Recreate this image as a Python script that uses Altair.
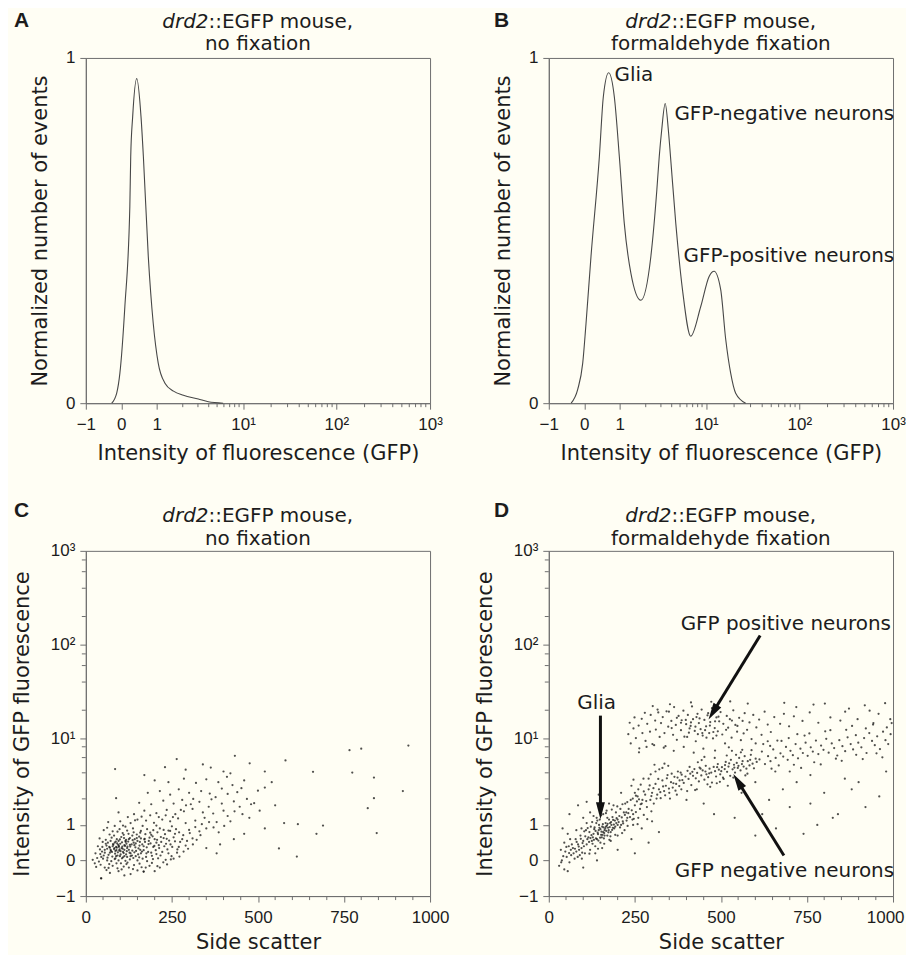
import math
import altair as alt
import pandas as pd

BG = "#FFFEF4"
INK = "#1c1c1c"
AXIS = "#6e6e6e"
W, H = 345, 346

# Biexponential display axis: axis-unit positions of the labelled values -1, 0, 1, 10, 100, 1000
TICK_POS = [-1, 0, 1, 3.43, 6.06, 8.7]
TICK_LAB = ["−1", "0", "1", "10¹", "10²", "10³"]
DECADES = [(1, 3.43), (3.43, 6.06), (6.06, 8.7)]
HIST_MINOR_MULT = [2, 3, 4, 5, 6, 7, 8, 9]
SCAT_MINOR_MULT = [2, 4, 6, 8]
SSC_TICKS = [0, 250, 500, 750, 1000]
SSC_MINOR = [50, 100, 150, 200, 300, 350, 400, 450, 550, 600, 650, 700, 800, 850, 900, 950]

# Panel A histogram (x in display-axis units, y normalized)
A_X = [-0.27, -0.13, -0.04, 0.1, 0.24, 0.265, 0.32, 0.434, 0.555, 0.622, 0.76, 0.9, 1.04,
       1.23, 1.47, 1.75, 2.17, 2.45, 2.87]
A_Y = [0, 0.029, 0.087, 0.28, 0.57, 0.714, 0.83, 0.94, 0.83, 0.714, 0.425, 0.231, 0.116,
       0.058, 0.035, 0.023, 0.012, 0.004, 0]

# Panel B histogram
B_X = [-0.37, -0.185, -0.044, 0.049, 0.189, 0.425, 0.536, 0.687, 0.847, 0.988, 1.128, 1.314,
       1.595, 1.876, 2.045, 2.112, 2.18, 2.28, 2.37, 2.43, 2.579, 2.767, 3.0, 3.282, 3.518,
       3.658, 3.844, 3.985, 4.125, 4.266, 4.547]
B_Y = [0, 0.04, 0.116, 0.231, 0.425, 0.714, 0.887, 0.957, 0.887, 0.714, 0.52, 0.376,
       0.298, 0.425, 0.618, 0.714, 0.79, 0.868, 0.79, 0.714, 0.52, 0.329, 0.194, 0.28, 0.367,
       0.382, 0.329, 0.185, 0.087, 0.029, 0]
B_NOTES = [("Glia", 0.85, 0.934, "left"), ("GFP-negative neurons", 2.54, 0.82, "left"),
           ("GFP-positive neurons", 2.795, 0.41, "left")]

# Panel C scatter (side scatter, display-axis units)
C_CORE = [
    (45, -0.5), (70, -0.35), (95, -0.3), (130, -0.38), (168, -0.31), (112, -0.42), (150, -0.28), (60, -0.27), (200, -0.3),
    (30, -0.18), (55, -0.2), (78, -0.15), (92, -0.22), (110, -0.17), (125, -0.2), (140, -0.13), (162, -0.19), (185, -0.15),
    (215, -0.2), (68, -0.1), (102, -0.08), (118, -0.1),
    (20, 0.02), (38, -0.03), (50, 0.05), (62, 0.0), (74, -0.02), (84, 0.04), (95, 0.0), (105, 0.06), (115, -0.01),
    (128, 0.03), (138, 0.07), (150, 0.0), (165, 0.05), (178, -0.02), (195, 0.04), (210, 0.06), (232, 0.02), (255, 0.05),
    (45, 0.1), (88, 0.12), (120, 0.1), (145, 0.12), (175, 0.1), (225, -0.05),
    (28, 0.2), (42, 0.18), (55, 0.22), (66, 0.16), (76, 0.24), (85, 0.19), (93, 0.23), (101, 0.17), (110, 0.21),
    (119, 0.26), (130, 0.2), (141, 0.23), (152, 0.17), (163, 0.25), (176, 0.2), (190, 0.22), (205, 0.18), (222, 0.24),
    (240, 0.2), (265, 0.22), (72, 0.3), (97, 0.28), (125, 0.3), (158, 0.3),
    (35, 0.4), (48, 0.38), (60, 0.42), (70, 0.36), (80, 0.44), (88, 0.38), (96, 0.41), (104, 0.35), (112, 0.43),
    (121, 0.39), (133, 0.45), (144, 0.37), (156, 0.42), (168, 0.4), (182, 0.46), (196, 0.38), (212, 0.43), (228, 0.4),
    (246, 0.45), (270, 0.38), (290, 0.42), (64, 0.5), (91, 0.48), (116, 0.52), (139, 0.5), (172, 0.52), (205, 0.5),
    (40, 0.62), (58, 0.58), (75, 0.64), (90, 0.6), (103, 0.66), (117, 0.58), (128, 0.63), (142, 0.6), (155, 0.67),
    (170, 0.59), (185, 0.64), (200, 0.6), (218, 0.66), (235, 0.61), (255, 0.65), (280, 0.6), (310, 0.62), (82, 0.7),
    (110, 0.72), (148, 0.73), (190, 0.72), (230, 0.74),
    (82, 0.32), (90, 0.36), (98, 0.31), (106, 0.39), (94, 0.44), (86, 0.27), (112, 0.3), (100, 0.47), (78, 0.4),
    (120, 0.35), (108, 0.24), (92, 0.14), (84, 0.5), (128, 0.44), (70, 0.22), (62, 0.33), (135, 0.28), (145, 0.48),
    (115, 0.55), (125, 0.6), (135, 0.7), (150, 0.55), (160, 0.62), (95, 0.55), (72, 0.55), (55, 0.3), (47, 0.25),
    (130, 0.12), (112, 0.12), (160, 0.2),
]
C_CORE2 = [
    (83, 0.35), (89, 0.29), (96, 0.38), (101, 0.26), (107, 0.33), (114, 0.41), (79, 0.46), (87, 0.53), (99, 0.59),
    (105, 0.51), (111, 0.63), (118, 0.47), (123, 0.53), (129, 0.39), (136, 0.57), (141, 0.43), (148, 0.63), (153, 0.34),
    (157, 0.52), (164, 0.45), (171, 0.61), (177, 0.37), (183, 0.55), (188, 0.48), (194, 0.68), (199, 0.41), (207, 0.58),
    (213, 0.35), (219, 0.52), (226, 0.63), (233, 0.47), (242, 0.56), (251, 0.38), (259, 0.54), (68, 0.38), (73, 0.27),
    (58, 0.47), (52, 0.14), (63, 0.08), (77, 0.11), (86, 0.06), (99, 0.12), (108, 0.09), (117, 0.17), (127, 0.22),
    (134, 0.14), (146, 0.27), (155, 0.09), (168, 0.29), (181, 0.24), (192, 0.13), (203, 0.29), (217, 0.14), (237, 0.31),
    (249, 0.12), (266, 0.31), (274, 0.52), (283, 0.71), (294, 0.55), (302, 0.77), (271, 0.79), (259, 0.75), (245, 0.83),
    (226, 0.86), (208, 0.79), (187, 0.78), (173, 0.74), (158, 0.78), (139, 0.79), (124, 0.75), (107, 0.77), (92, 0.81),
    (69, 0.73), (49, 0.52), (41, 0.31), (33, 0.07), (26, -0.08), (43, -0.12), (66, -0.21), (89, -0.08), (104, -0.25),
    (121, -0.06), (137, -0.24), (156, -0.09), (174, -0.2), (192, -0.07), (208, -0.16), (236, -0.11), (247, 0.03),
    (272, 0.11), (284, 0.25), (297, 0.33), (311, 0.45), (322, 0.58), (333, 0.71), (318, 0.94), (337, 1.02), (358, 1.08),
    (371, 0.93), (386, 0.79), (402, 0.97), (412, 1.25), (432, 1.38), (447, 1.51), (468, 1.73), (489, 1.61), (357, 1.51),
    (377, 1.78), (412, 1.87), (426, 2.12), (452, 2.03), (312, 1.73), (291, 1.55), (276, 1.42), (253, 1.22), (232, 1.27),
    (212, 1.22), (187, 1.27), (162, 1.23), (143, 1.13), (122, 1.22), (108, 0.98), (84, 0.97), (62, 0.92),
]
C_MID = [
    (52, 0.85), (78, 0.82), (98, 0.88), (120, 0.84), (137, 0.9), (160, 0.83), (178, 0.88), (196, 0.85), (215, 0.9),
    (240, 0.84), (262, 0.88), (300, 0.86), (330, 0.82), (350, 0.9), (115, 0.95), (165, 0.97), (205, 0.98), (250, 0.96),
    (65, 1.08), (100, 1.1), (130, 1.05), (150, 1.15), (175, 1.12), (198, 1.06), (222, 1.15), (245, 1.1), (268, 1.18),
    (290, 1.05), (318, 1.12), (345, 1.2), (380, 1.08), (420, 1.1),
    (95, 1.35), (140, 1.3), (170, 1.4), (205, 1.33), (235, 1.42), (260, 1.3), (285, 1.38), (310, 1.45), (340, 1.35),
    (370, 1.32), (400, 1.4), (455, 1.3),
    (155, 1.62), (190, 1.58), (225, 1.68), (255, 1.6), (280, 1.7), (305, 1.58), (330, 1.65), (365, 1.72), (395, 1.6),
    (430, 1.66), (480, 1.58),
    (180, 1.9), (215, 1.95), (245, 1.85), (270, 2.0), (300, 1.9), (335, 1.95), (360, 1.88), (395, 2.02), (440, 1.92),
    (500, 1.96), (520, 2.05),
    (200, 2.25), (240, 2.2), (285, 2.3), (320, 2.18), (350, 2.28), (385, 2.2), (410, 2.35), (460, 2.25), (540, 2.2),
]
C_SPARSE = [
    (85, 2.57), (230, 2.62), (290, 2.55), (340, 2.7), (363, 2.61), (400, 2.5), (420, 2.45), (476, 2.73), (264, 2.85),
    (433, 2.94), (580, 2.81), (660, 2.49), (774, 2.47), (837, 2.33), (520, 2.5), (766, 3.1), (800, 3.14), (937, 3.23),
    (170, 2.4), (837, 1.75), (921, 1.95), (819, 1.47), (576, 1.05), (616, 1.02), (689, 0.98), (670, 0.75), (845, 0.77),
    (613, 0.11), (561, 0.34), (88, 1.75), (44, -0.5), (168, -0.31), (520, 0.9), (475, 1.2), (430, 0.6), (390, 0.45),
    (460, 0.75), (505, 1.4), (550, 1.55), (380, 0.2), (350, 0.35),
]

# Panel D scatter
D_GLIA = [
    (30, -0.15), (38, 0.0), (45, -0.25), (52, 0.1), (48, 0.25), (60, -0.05), (65, 0.15), (70, 0.35), (58, 0.4),
    (75, 0.05), (80, 0.25), (85, 0.45), (78, 0.6), (90, 0.15), (95, 0.35), (100, 0.55), (92, 0.7), (105, 0.2),
    (110, 0.45), (115, 0.65), (108, 0.85), (120, 0.3), (125, 0.55), (130, 0.75), (122, 0.95), (135, 0.4), (140, 0.6),
    (145, 0.85), (138, 1.05), (150, 0.5), (152, 0.72), (155, 0.95), (148, 1.15), (160, 0.62), (162, 0.85), (165, 1.05),
    (158, 1.3), (170, 0.7), (172, 0.92), (175, 1.15), (168, 1.4), (180, 0.8), (182, 1.0), (185, 1.22), (190, 0.9),
    (192, 1.12), (195, 1.35), (188, 1.55), (200, 1.0), (205, 1.25), (208, 1.45), (215, 1.1), (218, 1.35), (222, 1.6),
    (228, 1.2), (232, 1.45), (238, 1.7), (245, 1.3), (250, 1.55), (258, 1.8), (265, 1.45), (272, 1.7),
    (142, 0.78), (150, 0.88), (158, 0.8), (166, 0.95), (174, 0.85), (146, 1.0), (162, 0.7), (178, 1.05), (186, 0.92),
    (154, 0.65), (132, 0.88), (170, 1.2), (196, 1.05), (128, 0.65), (118, 0.8), (200, 1.15), (210, 1.0), (225, 1.35),
    (112, 0.6), (102, 0.4), (88, 0.3), (72, 0.2), (64, 0.3), (84, 0.1), (96, 0.05), (135, 0.2), (155, 0.35),
    (180, 0.55), (200, 0.7), (220, 0.85), (245, 1.0), (260, 1.2), (110, 1.05), (95, 0.9), (130, 1.25), (150, 1.45),
    (175, 1.6), (120, 1.35), (100, 1.2), (80, 0.85), (62, 0.6), (55, 0.75), (45, 0.5), (35, 0.3),
    (60, 1.3), (85, 1.55), (110, 1.65), (145, 1.85), (210, 1.9), (40, 0.9), (240, 0.6), (270, 0.9), (300, 1.1),
    (290, 0.5), (320, 0.8), (55, -0.3), (100, -0.2), (140, 0.0), (200, 0.3), (250, 0.2),
]
D_GLIA2 = [
    (124, 0.71), (133, 0.93), (137, 0.62), (143, 0.74), (147, 0.92), (153, 0.81), (157, 1.02), (161, 0.77), (164, 0.9),
    (169, 0.98), (173, 0.79), (177, 0.94), (181, 1.08), (184, 0.86), (189, 1.01), (193, 0.95), (197, 1.19), (203, 1.08),
    (207, 0.93), (212, 1.21), (216, 1.04), (221, 1.28), (226, 1.12), (231, 1.33), (236, 1.22), (241, 1.41), (247, 1.17),
    (253, 1.36), (117, 0.52), (127, 0.47), (136, 0.83), (141, 1.12), (149, 0.64), (156, 0.72), (167, 0.83), (179, 0.68),
    (187, 1.14), (171, 1.03), (159, 0.93), (144, 0.56), (131, 0.58), (121, 0.63), (106, 0.68), (98, 0.49), (93, 0.61),
    (87, 0.39), (81, 0.52), (76, 0.33), (67, 0.45), (59, 0.21), (51, 0.38), (42, 0.12), (36, -0.05), (103, 0.82),
    (113, 0.91), (126, 1.08), (139, 1.2), (152, 1.27), (166, 1.33), (183, 1.43), (199, 1.52), (214, 1.58), (228, 1.64),
    (244, 1.74), (256, 1.66), (267, 1.58), (213, 0.77), (229, 0.97), (243, 1.15), (258, 1.02), (276, 1.28), (286, 1.16),
    (298, 1.38), (193, 0.72), (176, 0.58), (161, 0.47), (143, 0.33), (118, 0.19), (97, 0.22),
]
D_BRIDGE = [
    (270, 1.6), (280, 1.85), (285, 1.5), (290, 2.0), (295, 1.7), (300, 1.9), (305, 1.6), (310, 2.15), (315, 1.85),
    (320, 2.0), (325, 1.75), (330, 2.25), (335, 1.95), (340, 2.1), (345, 2.4), (350, 1.9), (355, 2.2), (360, 2.05),
    (365, 2.35), (370, 2.15), (375, 2.5), (380, 2.25), (385, 2.0), (290, 2.3), (310, 2.5), (330, 2.6), (260, 2.0),
    (275, 2.3), (250, 1.9), (240, 2.1),
    (262, 1.72), (276, 1.94), (283, 1.67), (293, 2.11), (298, 1.81), (304, 2.03), (313, 1.74), (318, 2.29), (324, 1.92),
    (332, 2.08), (338, 1.83), (343, 2.31), (349, 2.02), (357, 2.44), (362, 2.17), (368, 1.96), (374, 2.33), (379, 2.09),
    (383, 2.47), (388, 2.26), (296, 2.42), (321, 2.56), (347, 2.66), (267, 2.13), (253, 1.82), (246, 2.27), (352, 1.74),
    (372, 1.85), (336, 2.72), (307, 2.69),
]
D_NEG = [
    (386, 2.41), (392, 2.18), (397, 2.36), (403, 2.52), (406, 2.29), (411, 2.44), (414, 2.12), (419, 2.38), (423, 2.57),
    (427, 2.31), (431, 2.46), (436, 2.22), (438, 2.61), (443, 2.39), (447, 2.53), (452, 2.27), (456, 2.66), (458, 2.42),
    (463, 2.34), (467, 2.58), (472, 2.47), (474, 2.19), (479, 2.63), (483, 2.51), (486, 2.36), (491, 2.71), (494, 2.55),
    (498, 2.42), (503, 2.62), (506, 2.33), (511, 2.57), (514, 2.77), (518, 2.49), (522, 2.64), (527, 2.38), (529, 2.83),
    (534, 2.56), (538, 2.69), (541, 2.47), (546, 2.74), (549, 2.6), (553, 2.88), (557, 2.53), (561, 2.71), (566, 2.64),
    (569, 2.93), (574, 2.58), (578, 2.79), (583, 2.67), (587, 2.97), (592, 2.72), (596, 2.59), (601, 2.86), (604, 2.77),
    (409, 2.63), (425, 1.98), (444, 2.82), (461, 2.14), (482, 2.88), (497, 2.21), (517, 2.95), (536, 2.33), (558, 3.04),
    (577, 2.44), (402, 1.95), (452, 2.91), (488, 2.17), (532, 3.08), (571, 2.39), (469, 2.07), (508, 2.29), (433, 2.76),
    (544, 2.97), (589, 3.1), (417, 2.49), (441, 2.58), (466, 2.45), (489, 2.62), (512, 2.68), (539, 2.61), (563, 2.79),
    (585, 2.83), (455, 2.5), (501, 2.51), (524, 2.73), (551, 2.66),
]
D_NEG_RIGHT = [
    (612, 2.84), (619, 3.06), (628, 2.71), (637, 2.93), (644, 2.79), (652, 3.12), (659, 2.88), (668, 2.67), (673, 3.01),
    (681, 2.92), (689, 3.19), (694, 2.83), (702, 3.08), (709, 2.96), (717, 3.27), (724, 2.87), (731, 3.14), (738, 3.02),
    (746, 3.31), (752, 2.94), (761, 3.18), (767, 3.06), (776, 3.37), (783, 2.99), (791, 3.23), (798, 3.11), (806, 3.42),
    (813, 3.03), (822, 3.29), (829, 3.16), (838, 2.95), (844, 3.38), (853, 3.21), (861, 3.07), (868, 3.46), (877, 3.27),
    (884, 3.12), (892, 3.52), (899, 3.31), (908, 3.18), (916, 3.44), (923, 3.02), (931, 3.58), (939, 3.36), (947, 3.24),
    (954, 3.49), (962, 3.13), (971, 3.62), (978, 3.38), (986, 3.27), (993, 3.55), (623, 3.27), (647, 2.58), (676, 3.36),
    (712, 2.69), (743, 3.51), (771, 2.76), (803, 3.63), (834, 2.86), (864, 3.67), (893, 2.97), (921, 3.71), (952, 3.01),
    (982, 3.74), (697, 3.44), (757, 3.57), (818, 3.66), (881, 3.78), (942, 3.82), (996, 3.86), (636, 3.35), (722, 3.55),
    (658, 2.5), (733, 2.6), (790, 2.7), (851, 2.8), (912, 2.85), (969, 2.9),
]
D_POS = [
    (231, 3.55), (235, 3.87), (238, 3.29), (246, 3.71), (249, 4.02), (253, 3.44), (261, 3.79), (263, 3.15), (270, 3.98),
    (272, 3.58), (279, 4.15), (281, 3.36), (286, 3.84), (294, 3.62), (296, 4.09), (301, 3.27), (309, 3.93), (311, 3.68),
    (316, 4.24), (322, 3.47), (326, 3.86), (331, 4.03), (336, 3.58), (339, 3.21), (347, 3.76), (349, 4.18), (356, 3.92),
    (361, 3.53), (364, 4.31), (369, 3.81), (372, 3.39), (377, 4.06), (384, 3.66), (386, 3.94), (391, 4.21), (394, 3.48),
    (399, 3.83), (404, 4.09), (407, 3.59), (412, 3.78), (416, 4.33), (419, 3.97), (424, 3.64), (427, 3.35), (432, 4.12),
    (436, 3.86), (441, 3.69), (444, 4.24), (447, 3.51), (452, 3.95), (457, 3.77), (461, 4.08), (466, 3.58), (469, 3.89),
    (474, 4.28), (477, 3.43), (482, 3.72), (487, 4.02), (491, 3.63), (495, 3.91), (499, 4.17), (504, 3.54), (507, 3.84),
    (512, 3.29), (517, 4.06), (521, 3.73), (526, 3.97), (531, 3.45), (536, 4.22), (542, 3.81), (547, 3.62), (553, 4.01),
    (558, 3.38), (563, 3.92), (569, 4.14), (576, 3.67), (583, 3.88), (589, 3.41), (594, 4.09), (603, 3.74), (611, 3.96),
    (618, 3.53), (627, 4.18), (636, 3.82), (645, 3.61), (655, 4.03), (664, 3.37), (672, 3.84),
    (398, 3.95), (413, 3.88), (426, 3.76), (438, 3.99), (454, 3.66), (468, 3.79), (483, 3.91), (463, 4.14), (429, 4.03),
    (409, 3.71), (384, 3.87), (446, 3.58), (478, 3.61), (493, 4.04), (372, 4.01), (357, 3.72), (342, 4.19), (318, 4.16),
    (402, 3.47), (433, 3.55), (458, 3.45), (487, 3.51), (515, 3.67), (532, 3.93), (548, 3.78), (566, 3.57),
    (306, 3.24), (334, 3.17), (363, 3.08), (392, 3.19), (421, 3.03), (449, 3.14), (483, 3.09), (523, 3.18), (562, 3.11),
    (601, 3.29), (643, 3.22), (284, 3.19), (262, 3.04),
    (683, 4.12), (698, 3.77), (719, 4.31), (737, 3.92), (758, 4.16), (783, 3.87), (802, 4.41), (818, 4.02), (847, 3.93),
    (872, 4.27), (897, 3.97), (918, 4.36), (943, 3.86), (958, 4.12), (977, 4.42), (992, 3.97), (684, 4.43), (578, 4.41),
    (527, 4.47), (472, 4.46), (413, 4.44), (352, 4.39), (302, 4.34), (712, 4.05), (769, 4.38), (861, 4.18), (932, 4.21),
]
D_SPARSE = [
    (520, 2.1), (560, 1.9), (600, 2.2), (640, 1.7), (680, 2.0), (720, 2.2), (760, 1.6), (800, 1.9), (840, 1.3),
    (880, 2.0), (920, 1.5), (960, 1.8), (620, 1.3), (700, 1.5), (780, 1.0), (860, 2.3), (900, 2.2), (980, 2.5),
    (540, 1.2), (660, 0.9), (740, 0.75), (450, 1.6), (480, 1.3), (400, 1.7), (430, 2.0), (600, 0.7), (825, 1.2),
    (700, 2.5), (760, 2.4),
]
# annotations in panel D: text (x, y) and arrows (tail x, tail y, tip x, tip y)
D_NOTES = [("Glia", 139, 4.27, "center"), ("GFP positive neurons", 383, 6.49, "left"),
           ("GFP negative neurons", 366, -0.47, "left")]
D_ARROWS = [(150, 4.07, 150, 1.16), (614, 6.32, 464, 3.96), (683, 0.14, 536, 2.43)]

ARROW_PATH = "M0,-1L0.45,0.7L-0.45,0.7Z"
TITLE_L1_ITALIC = "drd2"
TITLE_L1_REST = "::EGFP mouse,"
TITLE_SIZE = 20


def minor_positions(mults):
    return [lo + (hi - lo) * math.log10(m) for lo, hi in DECADES for m in mults]


def label_expr(pos, lab):
    e = "''"
    for p, l in reversed(list(zip(pos, lab))):
        e = f"abs(datum.value - ({p})) < 0.001 ? '{l}' : {e}"
    return e


BIEX_SCALE = alt.Scale(domain=[-1, 8.7], nice=False, zero=False)
UNIT_SCALE = alt.Scale(domain=[0, 1], nice=False, zero=False)
SSC_SCALE = alt.Scale(domain=[0, 1000], nice=False, zero=False)

HIST_XAX = alt.Axis(values=TICK_POS, labelExpr=label_expr(TICK_POS, TICK_LAB),
                    title="Intensity of fluorescence (GFP)", titleY=56, titleBaseline="alphabetic")
HIST_YAX = alt.Axis(values=[0, 1], format="d", title="Normalized number of events",
                    titleX=-39, titleBaseline="alphabetic")
SCAT_XAX_C = alt.Axis(values=SSC_TICKS, format="d", title="Side scatter", titleY=53,
                      titleBaseline="alphabetic")
SCAT_XAX_D = alt.Axis(values=SSC_TICKS, format="d", title="Side scatter", titleY=53,
                      titleBaseline="alphabetic",
                      labelAlign={"condition": {"test": "datum.value == 1000", "value": "right"},
                                  "value": "center"},
                      labelOffset={"condition": {"test": "datum.value == 1000", "value": 11},
                                   "value": 0})
SCAT_YAX = alt.Axis(values=TICK_POS, labelExpr=label_expr(TICK_POS, TICK_LAB),
                    title="Intensity of GFP fluorescence", titleX=-57, titleBaseline="alphabetic")


def text_layer(txt, x, y, size=TITLE_SIZE, align="left", style="normal", weight="normal",
               font="DejaVu Sans"):
    return alt.Chart(pd.DataFrame({"t": [txt]})).mark_text(
        font=font, fontSize=size, align=align, baseline="alphabetic", fontStyle=style,
        fontWeight=weight, color=INK).encode(x=alt.value(x), y=alt.value(y), text="t:N")


def header(letter, letter_x, letter_y, line2, y1, y2):
    split = 123
    return [
        text_layer(letter, letter_x, letter_y, size=21, weight="bold", font="Liberation Sans"),
        text_layer(TITLE_L1_ITALIC, split, y1, align="right", style="italic"),
        text_layer(TITLE_L1_REST, split, y1, align="left"),
        text_layer(line2, W / 2, y2, align="center"),
    ]


def panel(primary, xscale, xax, yscale, yax, x_minor, y_minor, notes, arrows, letter, letter_x,
          line2, hy):
    def X(f):
        return alt.X(f, scale=xscale, axis=xax)

    def Y(f):
        return alt.Y(f, scale=yscale, axis=yax)

    layers = [primary(X, Y)]
    layers.append(alt.Chart(pd.DataFrame({"m": x_minor})).mark_rule(color=AXIS, strokeWidth=1).encode(
        x=X("m:Q"), y=alt.value(H), y2=alt.value(H + 4)))
    if y_minor:
        layers.append(alt.Chart(pd.DataFrame({"m": y_minor})).mark_rule(color=AXIS, strokeWidth=1).encode(
            y=Y("m:Q"), x=alt.value(0), x2=alt.value(-4)))
    if arrows:
        rows = []
        xspan = xscale.domain[1] - xscale.domain[0]
        yspan = yscale.domain[1] - yscale.domain[0]
        for x1, y1, x2, y2 in arrows:
            dx = (x2 - x1) * W / xspan
            dy = -(y2 - y1) * H / yspan
            L = math.hypot(dx, dy)
            ux, uy = dx / L, dy / L
            ang = math.degrees(math.atan2(ux, -uy)) % 360
            rows.append({"x1": x1, "y1": y1, "hx": x2 - 10 * ux * xspan / W,
                         "hy": y2 + 10 * uy * yspan / H, "ang": ang})
        adf = pd.DataFrame(rows)
        layers.append(alt.Chart(adf).mark_rule(color="#111111", strokeWidth=3).encode(
            x=X("x1:Q"), y=Y("y1:Q"), x2="hx:Q", y2="hy:Q"))
        layers.append(alt.Chart(adf).mark_point(shape=ARROW_PATH, filled=True, size=400,
                                                color="#111111", opacity=1, strokeWidth=0).encode(
            x=X("hx:Q"), y=Y("hy:Q"), angle=alt.Angle("ang:Q", scale=None)))
    for txt, nx, ny, al in notes:
        layers.append(alt.Chart(pd.DataFrame({"t": [txt], "nx": [nx], "ny": [ny]})).mark_text(
            font="DejaVu Sans", fontSize=20, align=al, baseline="alphabetic", color=INK).encode(
            x=X("nx:Q"), y=Y("ny:Q"), text="t:N"))
    layers += header(letter, letter_x, hy[0], line2, hy[1], hy[2])
    return alt.layer(*layers).properties(width=W, height=H)


def hist_primary(xs, ys):
    df = pd.DataFrame({"x": xs, "y": ys})

    def make(X, Y):
        return alt.Chart(df).mark_line(color="#474747", strokeWidth=1.1,
                                       interpolate="monotone").encode(x=X("x:Q"), y=Y("y:Q"))
    return make


def scatter_primary(points):
    df = pd.DataFrame(points, columns=["x", "y"])

    def make(X, Y):
        return alt.Chart(df).mark_circle(size=5, color="#151515", opacity=0.75).encode(
            x=X("x:Q"), y=Y("y:Q"))
    return make


HIST_MINOR = minor_positions(HIST_MINOR_MULT)
SCAT_MINOR = minor_positions(SCAT_MINOR_MULT)

panel_a = panel(hist_primary(A_X, A_Y), BIEX_SCALE, HIST_XAX, UNIT_SCALE, HIST_YAX, HIST_MINOR, [],
                [], [], "A", -72, "no fixation", (-31, -30, -7.5))
panel_b = panel(hist_primary(B_X, B_Y), BIEX_SCALE, HIST_XAX, UNIT_SCALE, HIST_YAX, HIST_MINOR, [],
                B_NOTES, [], "B", -55, "formaldehyde fixation", (-31, -30, -7.5))
panel_c = panel(scatter_primary(C_CORE + C_CORE2 + C_MID + C_SPARSE), SSC_SCALE, SCAT_XAX_C,
                BIEX_SCALE, SCAT_YAX, SSC_MINOR, SCAT_MINOR, [], [], "C", -72, "no fixation",
                (-34, -28.5, -6))
panel_d = panel(scatter_primary(D_GLIA + D_GLIA2 + D_BRIDGE + D_NEG + D_NEG_RIGHT + D_POS + D_SPARSE),
                SSC_SCALE, SCAT_XAX_D, BIEX_SCALE, SCAT_YAX, SSC_MINOR, SCAT_MINOR, D_NOTES, D_ARROWS,
                "D", -55, "formaldehyde fixation", (-34, -28.5, -6))

chart = alt.concat(panel_a, panel_b, panel_c, panel_d, columns=2,
                   spacing=alt.RowColnumber(row=148, column=119), bounds="flush").properties(
    background=BG, padding={"left": 3, "top": 0, "right": 0, "bottom": 0}
).configure_view(stroke=AXIS, strokeWidth=1, fill=BG).configure_axis(
    labelFont="Liberation Sans", labelFontSize=17, labelColor=INK,
    titleFont="DejaVu Sans", titleFontSize=21, titleFontWeight="normal", titleColor=INK,
    domainColor=AXIS, tickColor=AXIS, tickSize=6, grid=False, labelFlush=False, labelOverlap=False
).configure_axisX(labelPadding=7).configure_axisY(labelPadding=5)

chart.save("out.html", embed_options={"renderer": "svg", "actions": False})
